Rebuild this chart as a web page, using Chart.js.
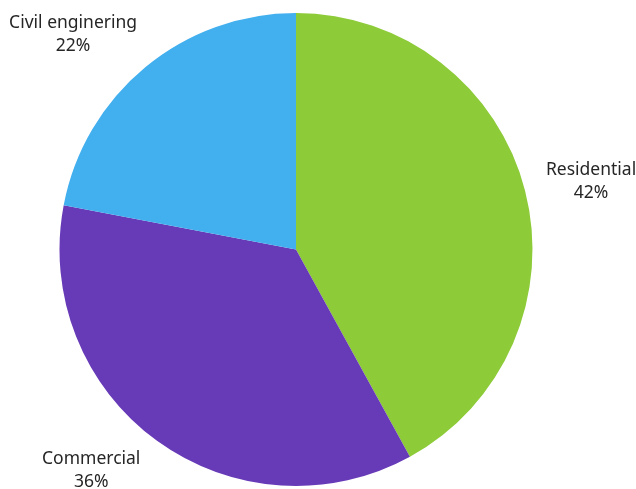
<!DOCTYPE html>
<html lang="en">
<head>
    <meta charset="UTF-8">
    <title>Sectors</title>
    <script src="https://cdn.jsdelivr.net/npm/chart.js@4.4.0/dist/chart.umd.min.js"></script>
    <style>
        body { margin: 0; background: #fff; }
        #wrap { width: 636px; height: 489px; }
    </style>
</head>
<body>
    <div id="wrap">
        <canvas id="pie" width="636" height="489"></canvas>
    </div>

<script>
    // sector shares (percent)
    const sectors = ['Residential', 'Commercial', 'Civil enginering'];
    const shares = [42, 36, 22];
    const colours = ['#8dcb38', '#673ab7', '#42afef'];

    // writes "name / xx%" just outside each slice
    const outsideLabels = {
        id: 'outsideLabels',
        afterDatasetsDraw(chart) {
            const ctx = chart.ctx;
            const meta = chart.getDatasetMeta(0);
            const total = shares.reduce((a, b) => a + b, 0);
            ctx.save();
            ctx.font = '17.5px "Noto Sans", sans-serif';
            ctx.fillStyle = '#262626';
            ctx.textAlign = 'center';
            ctx.textBaseline = 'middle';
            const lineH = 23;
            meta.data.forEach((arc, i) => {
                const mid = (arc.startAngle + arc.endAngle) / 2;
                const dx = Math.cos(mid), dy = Math.sin(mid);
                const r = arc.outerRadius + 20;
                const ax = arc.x + dx * r;
                const ay = arc.y + dy * r;
                const lines = [sectors[i], Math.round(shares[i] / total * 100) + '%'];
                const w = Math.max(...lines.map(t => ctx.measureText(t).width));
                const h = lines.length * lineH;
                const cx = ax + (dx >= 0 ? w / 2 : -w / 2) - dy * 6;
                const cy = ay + dy * Math.abs(dy) * 25 - 2.5;
                lines.forEach((t, k) => {
                    ctx.fillText(t, cx, cy - h / 2 + lineH / 2 + k * lineH);
                });
            });
            ctx.restore();
        }
    };

    new Chart(document.getElementById('pie'), {
        type: 'pie',
        data: {
            labels: sectors,
            datasets: [{
                data: shares,
                backgroundColor: colours,
                borderWidth: 0
            }]
        },
        options: {
            responsive: false,
            animation: false,
            layout: {
                padding: { top: 13, bottom: 3, left: 58, right: 102 }
            },
            plugins: {
                legend: { display: false },
                tooltip: { enabled: false }
            }
        },
        plugins: [outsideLabels]
    });
</script>
</body>
</html>
